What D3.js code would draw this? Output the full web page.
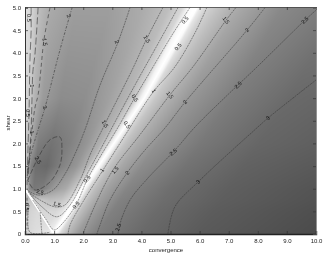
<!DOCTYPE html>
<html><head><meta charset="utf-8">
<script src="https://cdn.jsdelivr.net/npm/d3@7"></script>
<style>
html,body{margin:0;padding:0;background:#fff}
#w{position:relative;width:335px;height:257px;overflow:hidden}
canvas,svg{position:absolute;left:0;top:0}
text{font-family:"Liberation Sans",Arial,sans-serif}
</style></head><body><div id="w"><canvas id="c" width="335" height="257"></canvas><svg id="s" width="335" height="257"></svg></div>
<script>
const xTicks=[0,1,2,3,4,5,6,7,8,9,10];
const xTickLabels=["0.0","1.0","2.0","3.0","4.0","5.0","6.0","7.0","8.0","9.0","10.0"];
const yTicks=[0,0.5,1,1.5,2,2.5,3,3.5,4,4.5,5];
const yTickLabels=["0","0.5","1.0","1.5","2.0","2.5","3.0","3.5","4.0","4.5","5.0"];

// position of the bright ridge
const ridgeShear=[0,1,3,5];
const ridgeConv=[1,2,4.1,5.82];

// background brightness, per shear row
const rowShear=[0,0.5,0.75,1,1.5,2,3,5];
const leftFrac=[0,0.03,0.08,0.15,0.3,0.5,0.7,0.85,0.93,0.97,1];
const leftGray=[
 [205,208,212,216,220,225,230,240,252,255,255],
 [205,205,208,212,218,215,215,225,242,255,255],
 [190,180,195,205,200,190,195,210,238,255,255],
 [200,185,140,120,125,155,170,198,230,255,255],
 [190,185,130,110,105,130,150,180,215,245,255],
 [200,195,160,125,115,128,150,178,210,240,255],
 [215,208,180,155,140,142,160,180,205,240,255],
 [225,218,190,170,158,158,172,190,215,250,255]];
const rightDist=[0,0.1,0.2,0.4,0.8,1.5,3,5,9];
const rightGray=[
 [255,245,218,190,155,125,105,90,75],
 [255,250,218,190,158,128,107,92,77],
 [255,245,215,190,160,130,109,94,79],
 [255,240,212,190,162,133,110,95,80],
 [255,240,212,192,167,140,115,98,84],
 [255,240,212,194,172,146,120,102,88],
 [255,240,215,198,177,152,125,106,92],
 [255,255,232,212,195,170,137,120,108]];

// contour lines: [convergence, shear]
const c05Left=[[.21,5],[.21,4.48],[.17,3.84],[.14,2.74],[.10,1.85],[.07,1.08]];
const c1Left=[[.45,5],[.34,3.95],[.27,3.58],[.24,2.96],[.21,2.30],[.17,1.85],[.10,1.19]];
const c15Left=[[.86,5],[.65,4.28],[.55,3.66],[.45,3.07],[.34,2.78],[.21,2.08],[.10,1.41]];
const c2Left=[[1.62,5],[1.20,4.06],[.69,2.80],[.45,2.30],[.17,1.68],[.07,1.24]];
const c25Loop=[[.10,1.19],[.41,1.63],[.86,2.08],[1.20,2.14],[1.27,1.85],[1.20,1.52],[.86,1.15],[.34,.97],[.10,1.19]];
const c2Mid=[[3.61,5],[3.2,4.24],[2.58,3.29],[2.06,2.30],[1.72,1.77],[1.37,1.32],[.96,.97],[.45,.86],[.07,.97]];
const c15Mid=[[4.74,5],[4.16,4.28],[3.68,3.62],[2.75,2.43],[2.23,1.74],[1.89,1.19],[1.37,.64],[1.03,.60],[.52,.75],[.10,.93]];
const c1Mid=[[5.26,5],[4.64,4.28],[3.78,3.29],[3.09,2.47],[2.58,1.85],[2.06,1.24],[1.55,.64],[1.10,.38],[.58,.60],[.14,.90]];
const c05Mid=[[5.67,5],[5.05,4.39],[4.30,3.58],[3.78,3.02],[3.20,2.36],[2.58,1.70],[2.13,1.19],[1.75,.64],[1.27,.22],[1.0,.09],[.69,.35],[.27,.75]];
const c05Right=[[6.25,5],[5.84,4.44],[5.15,3.69],[4.40,3.13],[3.51,2.25],[2.68,1.41],[1.99,.71],[1.55,.20],[1.48,0]];
const c1Right=[[7.25,5],[6.91,4.72],[5.77,3.69],[4.98,3.07],[3.95,2.19],[3.02,1.41],[2.41,.64],[1.99,0]];
const c15Right=[[8.25,5],[7.63,4.5],[5.5,2.91],[4.81,2.34],[4.12,1.85],[3.51,1.35],[2.92,.75],[2.58,.20],[2.47,0]];
const c2Right=[[10,4.94],[9.62,4.72],[7.8,3.58],[7.32,3.29],[5.84,2.36],[5.15,1.85],[4.19,1.21],[3.61,.75],[3.26,.22],[3.2,0]];
const c3Right=[[10,3.4],[8.35,2.56],[8.0,2.36],[5.95,1.15],[5.15,.6],[4.91,0]];
const cTri1=[[.14,.64],[.17,.04],[.86,.04]];
const cTri2=[[.52,.49],[.58,0]];
const cTri3=[[.07,.8],[.07,.1]];
const dashedLines=[c05Left,c1Left,c15Left,c2Left,c25Loop,cTri3];
const dashStyles=["8,3.5","7,3","4,3","2.5,1.5,1,1.5","5,2","3,2"];
const solidLines=[c2Mid,c15Mid,c1Mid,c05Mid,c05Right,c1Right,c15Right,c2Right,c3Right,cTri1,cTri2];
const whiteLine=[[0,1],[1,0]];

// contour labels: text, convergence, shear, angle
const labelText=["0.5","1.5","2","2","1.5","0.5","0.5","1","1.5","2","1","0.5","1","2.5","2.5","1.5","0.5","0.5","1","1.5","2","2.5","0.5","0.5","1.5","2","2.5","1.5","2","2.5","3","2.5","3","0.5"];
const labelConv=[.14,.69,1.51,3.16,4.19,3.78,3.51,4.43,2.75,.69,.24,.10,.24,.45,.52,1.10,1.75,2.13,2.65,3.09,3.51,3.2,5.5,5.26,6.91,7.63,9.62,4.98,5.5,7.32,8.35,5.09,5.95,.07];
const labelShear=[4.77,4.24,4.81,4.24,4.30,3.0,2.41,3.16,2.43,2.8,3.27,2.67,2.25,1.63,.93,.66,.64,1.21,1.41,1.41,1.35,.15,4.72,4.13,4.72,4.5,4.72,3.07,2.91,3.29,2.56,1.81,1.15,.6];
const labelAngle=[90,80,70,65,60,55,55,60,60,70,90,90,85,60,15,15,-50,-50,-50,-50,-50,-70,-50,-50,50,-45,-45,50,-50,-45,-40,-40,-40,90];

const x=d3.scaleLinear().domain([0,10]).range([25,316]);
const y=d3.scaleLinear().domain([0,5]).range([234,7.5]);
const ridge=d3.scaleLinear().domain(ridgeShear).range(ridgeConv);
const left=rowShear.map((_,i)=>d3.scaleLinear().domain(leftFrac).range(leftGray[i]).clamp(true));
const right=rowShear.map((_,i)=>d3.scaleLinear().domain(rightDist).range(rightGray[i]).clamp(true));

// background
const ctx=document.getElementById("c").getContext("2d");
const x0=25,x1=316,y0=7,y1=234,w=x1-x0,h=y1-y0;
const img=ctx.createImageData(w,h);
for(let j=0;j<h;j++){
  const g=Math.max(0,y.invert(y0+j+.5));
  const rc=ridge(g);
  let k=d3.bisectRight(rowShear,g)-1;k=Math.min(k,rowShear.length-2);
  const f=(g-rowShear[k])/(rowShear[k+1]-rowShear[k]);
  for(let i=0;i<w;i++){
    const c=x.invert(x0+i+.5);
    const a=c<rc?left[k](c/rc):right[k](c-rc);
    const b=c<rc?left[k+1](c/rc):right[k+1](c-rc);
    const v=a+(b-a)*f,p=(j*w+i)*4;
    img.data[p]=img.data[p+1]=img.data[p+2]=v;img.data[p+3]=255;
  }
}
ctx.fillStyle="#fff";ctx.fillRect(0,0,335,257);
ctx.putImageData(img,x0,y0);

const svg=d3.select("#s");
const defs=svg.append("defs");
defs.append("filter").attr("id","soft").append("feGaussianBlur").attr("stdDeviation",0.35);
defs.append("filter").attr("id","glow").append("feGaussianBlur").attr("stdDeviation",0.7);
defs.append("clipPath").attr("id","pl").append("rect").attr("x",x0).attr("y",y0).attr("width",w).attr("height",h);
const root=svg.append("g").attr("filter","url(#soft)");
const plot=root.append("g").attr("clip-path","url(#pl)");
const line=d3.line().x(d=>x(d[0])).y(d=>y(d[1])).curve(d3.curveCatmullRom.alpha(.5));

plot.append("path").datum(whiteLine).attr("d",line).attr("fill","none").attr("stroke","#fff").attr("stroke-width",2.2).attr("filter","url(#glow)");
plot.append("path").datum(whiteLine).attr("d",line).attr("fill","none").attr("stroke","#fff").attr("stroke-width",1.2);
plot.selectAll("path.s").data(solidLines).join("path").attr("class","s").attr("d",line).attr("fill","none").attr("stroke","#333").attr("stroke-width",.5).attr("stroke-dasharray","2,.8");
plot.selectAll("path.d").data(dashedLines).join("path").attr("class","d").attr("d",line).attr("fill","none").attr("stroke","#333").attr("stroke-width",.6).attr("stroke-dasharray",(d,i)=>dashStyles[i]);
plot.selectAll("text").data(labelText).join("text")
  .attr("transform",(d,i)=>`translate(${x(labelConv[i])},${y(labelShear[i])}) rotate(${labelAngle[i]})`)
  .attr("text-anchor","middle").attr("dy","0.35em").attr("font-size",5.5).attr("fill","#111").text(d=>d);

// frame and axes
const axB=d3.axisBottom(x).tickValues(xTicks).tickFormat((d,i)=>xTickLabels[i]).tickSize(-3).tickPadding(5);
const axL=d3.axisLeft(y).tickValues(yTicks).tickFormat((d,i)=>yTickLabels[i]).tickSize(-3).tickPadding(4);
const axT=d3.axisTop(x).tickValues(xTicks).tickFormat("").tickSize(-3);
const axR=d3.axisRight(y).tickValues(yTicks).tickFormat("").tickSize(-3);
const gB=root.append("g").attr("transform","translate(0,234)").call(axB);
const gL=root.append("g").attr("transform","translate(25,0)").call(axL);
const gT=root.append("g").attr("transform","translate(0,7)").call(axT);
const gR=root.append("g").attr("transform","translate(316,0)").call(axR);
[gB,gL,gT,gR].forEach(g=>{g.selectAll("text").attr("font-size",6).attr("font-family",'"Liberation Sans",Arial,sans-serif').attr("fill","#222");g.selectAll("line").attr("stroke","#333").attr("stroke-width",.7);});
gB.select(".domain").attr("stroke","#222").attr("stroke-width",1.4);
gL.select(".domain").attr("stroke","#333").attr("stroke-width",1);
gT.select(".domain").attr("stroke","#444").attr("stroke-width",.8);
gR.select(".domain").attr("stroke","#777").attr("stroke-width",.8);
root.append("text").attr("x",166).attr("y",252).attr("text-anchor","middle").attr("font-size",6).attr("fill","#222").text("convergence");
root.append("text").attr("transform","translate(10,123) rotate(-90)").attr("text-anchor","middle").attr("font-size",6).attr("fill","#222").text("shear");
</script></body></html>
